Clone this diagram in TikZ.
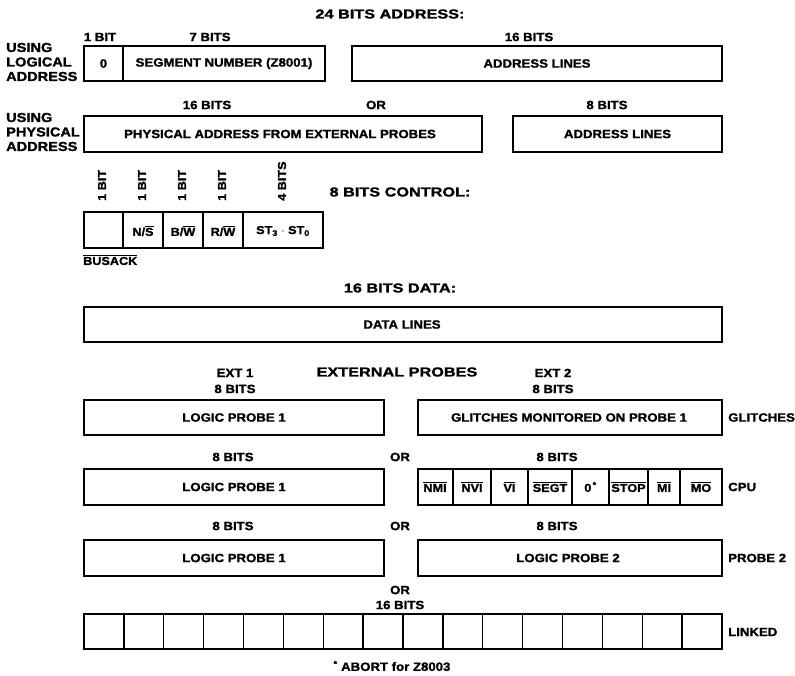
\documentclass[tikz,border=0pt]{standalone}
\usepackage{fontspec}
\setmainfont{Liberation Sans}
\newfontfamily\lblfont{Liberation Sans}[FakeStretch=1.1,FakeBold=1.4]
\newfontfamily\headfont{Liberation Sans}[FakeStretch=1.25,FakeBold=1.4]
\newfontfamily\sidefont{Liberation Sans}[FakeStretch=1.12,FakeBold=1.4]
\newcommand{\ovl}[1]{$\overline{\mbox{#1}}$}

\begin{document}
\begin{tikzpicture}[x=1pt,y=-1pt,
  lbl/.style={font=\lblfont\bfseries\fontsize{12}{16}\selectfont,inner sep=0pt},
  cl/.style={font=\lblfont\bfseries\fontsize{11.5}{12}\selectfont,inner sep=0pt},
  head/.style={font=\headfont\bfseries\fontsize{13}{15}\selectfont,inner sep=0pt},
  side/.style={font=\sidefont\bfseries\fontsize{13}{14.5}\selectfont,inner sep=0pt,align=left,anchor=west},
  bitlbl/.style={cl,rotate=90,anchor=west},
  box/.style={line width=2.4pt},
  cell/.style={line width=1.3pt}]
\useasboundingbox (0,0) rectangle (795,676);

% 24 bits address
\node[head] (addrtitle) at (390,14) {24 BITS ADDRESS:};
\node[side] (logical) at (6,62) {USING\\LOGICAL\\ADDRESS};
\node[side] (physical) at (6,132) {USING\\PHYSICAL\\ADDRESS};
\node[lbl] (bit1) at (100,37) {1 BIT};
\node[lbl] (bits7) at (210,37) {7 BITS};
\node[lbl] (bits16a) at (529,37) {16 BITS};
\draw[box] (84,46) rectangle (325,81);
\draw[cell] (123,46) -- (123,81);
\node[lbl] (zero) at (103.5,63.5) {0};
\node[lbl] (segnum) at (224,63.5) {SEGMENT NUMBER (Z8001)};
\draw[box] (352,46) rectangle (722,81);
\node[lbl] (addrlines) at (537,63.5) {ADDRESS LINES};

\node[lbl] (bits16b) at (207,105) {16 BITS};
\node[lbl] (or1) at (376,105) {OR};
\node[lbl] (bits8a) at (607,105) {8 BITS};
\draw[box] (84,116) rectangle (482,152);
\node[lbl] (physaddr) at (280,134) {PHYSICAL ADDRESS FROM EXTERNAL PROBES};
\draw[box] (513,116) rectangle (722,152);
\node[lbl] (addrlines2) at (617.5,134) {ADDRESS LINES};

% 8 bits control
\node[bitlbl] (cbit1) at (102,201) {1 BIT};
\node[bitlbl] (cbit2) at (142,201) {1 BIT};
\node[bitlbl] (cbit3) at (182,201) {1 BIT};
\node[bitlbl] (cbit4) at (222,201) {1 BIT};
\node[bitlbl] (cbit5) at (282,201) {4 BITS};
\node[head] (ctrltitle) at (400,192) {8 BITS CONTROL:};
\draw[box] (84,212) rectangle (323,248);
\foreach \xd in {123,163,203,243}
  \draw[cell] (\xd,212) -- (\xd,248);
\node[cl] (ns) at (143,231) {N/\ovl{S}};
\node[cl] (bw) at (183,231) {B/\ovl{W}};
\node[cl] (rw) at (223,231) {R/\ovl{W}};
\node[cl] (st) at (283,231) {ST\textsubscript{3} $\cdot$ ST\textsubscript{0}};
\node[cl,anchor=west] (busack) at (83,260) {\ovl{BUSACK}};

% 16 bits data
\node[head] (datatitle) at (400,288) {16 BITS DATA:};
\draw[box] (84,307) rectangle (722,342);
\node[lbl] (datalines) at (402,324.5) {DATA LINES};

% external probes
\node[head] (probetitle) at (397,372) {EXTERNAL PROBES};
\node[lbl,align=center] (ext1) at (235,381) {EXT 1\\8 BITS};
\node[lbl,align=center] (ext2) at (553,381) {EXT 2\\8 BITS};
\draw[box] (84,400) rectangle (384,435);
\node[lbl] (probe1a) at (234,417.5) {LOGIC PROBE 1};
\draw[box] (418,400) rectangle (722,435);
\node[lbl] (glitchmon) at (569,417.5) {GLITCHES MONITORED ON PROBE 1};
\node[lbl,anchor=west] (glitches) at (728,417.5) {GLITCHES};

\node[lbl] (bits8b) at (233,457) {8 BITS};
\node[lbl] (or2) at (400,457) {OR};
\node[lbl] (bits8c) at (557,457) {8 BITS};
\draw[box] (84,469) rectangle (384,505);
\node[lbl] (probe1b) at (234,487) {LOGIC PROBE 1};
\draw[box] (418,469) rectangle (722,505);
\foreach \xd in {453,491,528,572,609,648,680}
  \draw[cell] (\xd,469) -- (\xd,505);
\node[cl] (nmi) at (435,487) {\ovl{NMI}};
\node[cl] (nvi) at (472,487) {\ovl{NVI}};
\node[cl] (vi) at (509.5,487) {\ovl{VI}};
\node[cl] (segt) at (550,487) {\ovl{SEGT}};
\node[cl] (abortbit) at (590.5,487) {0\textsuperscript{\,*}};
\node[cl] (stop) at (628.5,487) {\ovl{STOP}};
\node[cl] (mi) at (664,487) {\ovl{MI}};
\node[cl] (mo) at (701,487) {\ovl{MO}};
\node[lbl,anchor=west] (cpu) at (728,487) {CPU};

\node[lbl] (bits8d) at (233,526) {8 BITS};
\node[lbl] (or3) at (400,526) {OR};
\node[lbl] (bits8e) at (557,526) {8 BITS};
\draw[box] (84,540) rectangle (384,576);
\node[lbl] (probe1c) at (234,558) {LOGIC PROBE 1};
\draw[box] (418,540) rectangle (722,576);
\node[lbl] (probe2) at (568,558) {LOGIC PROBE 2};
\node[lbl,anchor=west] (probe2lbl) at (728,558) {PROBE 2};

\node[lbl] (or4) at (400,590) {OR};
\node[lbl] (bits16c) at (400,605) {16 BITS};
\draw[box] (84,614) rectangle (722,649);
\foreach \i in {1,...,15}
  \draw[cell] ({84+\i*39.875},614) -- ({84+\i*39.875},649);
\node[lbl,anchor=west] (linked) at (728,632) {LINKED};

\node[lbl] (abortnote) at (392,666) {\textsuperscript{*} ABORT for Z8003};

\end{tikzpicture}
\end{document}
